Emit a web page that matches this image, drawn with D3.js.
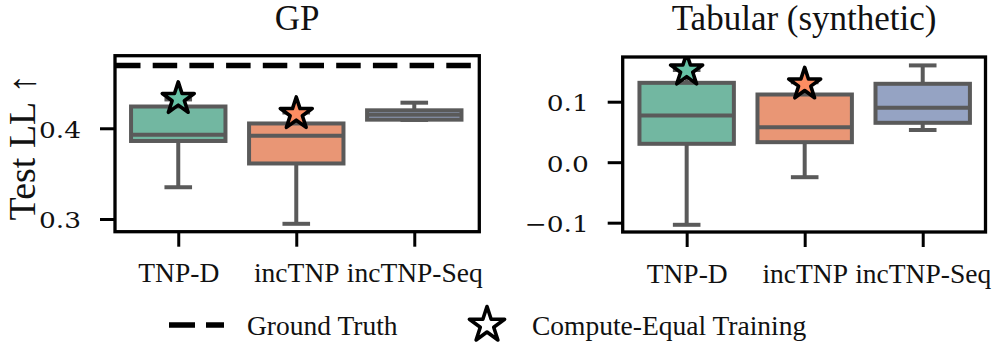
<!DOCTYPE html>
<html>
<head>
<meta charset="utf-8">
<script src="https://cdn.jsdelivr.net/npm/d3@7"></script>
<style>
  html, body { margin: 0; padding: 0; background: #fff; }
  svg { display: block; }
</style>
</head>
<body>
<svg id="chart" width="996" height="357"></svg>
<script>
// ---------------- data ----------------
const categories = ["TNP-D", "incTNP", "incTNP-Seq"];
const boxFill = ["#72b7a1", "#e99675", "#95a3c3"];
const starFill = ["#66c2a5", "#fc8d62"];

// GP panel (whisker low, Q1, median, Q3, whisker high)
const gpLow  = [0.335, 0.2947, 0.4092];
const gpQ1   = [0.3860, 0.3612, 0.4095];
const gpMed  = [0.3930, 0.3917, 0.4150];
const gpQ3   = [0.4240, 0.4053, 0.4198];
const gpHigh = [0.4318, 0.4174, 0.4282];
const gpStar = [0.4326, 0.4160];
const gpGroundTruth = 0.4692;
const gpTicks = [0.3, 0.4];

// Tabular (synthetic) panel
const tabLow  = [-0.1035, -0.0248, 0.0532];
const tabQ1   = [0.0304, 0.0331, 0.0651];
const tabMed  = [0.0772, 0.0579, 0.0899];
const tabQ3   = [0.1312, 0.1119, 0.1296];
const tabHigh = [0.1524, 0.1322, 0.1600];
const tabStar = [0.1520, 0.1290];
const tabTicks = [-0.1, 0.0, 0.1];

const legendLabels = ["Ground Truth", "Compute-Equal Training"];

// ---------------- drawing ----------------
const svg = d3.select("#chart");
const GRAY = "#5a5a5a";
const SERIF = "'Liberation Serif', 'Times New Roman', serif";
const NUMFONT = "'DejaVu Serif', serif";

function panel(opts) {
  const g = svg.append("g");
  const x = d3.scaleLinear().domain(opts.xlim).range(opts.xr);
  const y = d3.scaleLinear().domain(opts.ylim).range(opts.yr);
  const [x0, x1] = opts.xr, [y0, y1] = [opts.yr[1], opts.yr[0]];
  const clipId = "clip" + opts.id;
  svg.append("clipPath").attr("id", clipId).append("rect")
    .attr("x", x0).attr("y", y0).attr("width", x1 - x0).attr("height", y1 - y0);

  const idx = d3.range(categories.length);
  const hw = 0.4, cw = 0.2;
  const boxes = g.append("g");
  idx.forEach(i => {
    const b = boxes.append("g");
    // whiskers
    b.append("line").attr("x1", x(i)).attr("x2", x(i))
      .attr("y1", y(opts.q1[i])).attr("y2", y(opts.low[i]))
      .attr("stroke", GRAY).attr("stroke-width", 4);
    b.append("line").attr("x1", x(i)).attr("x2", x(i))
      .attr("y1", y(opts.q3[i])).attr("y2", y(opts.high[i]))
      .attr("stroke", GRAY).attr("stroke-width", 4);
    // caps
    [opts.low[i], opts.high[i]].forEach(v => {
      b.append("line").attr("x1", x(i - cw / 2 * 1)).attr("x2", x(i + cw / 2 * 1))
        .attr("y1", y(v)).attr("y2", y(v))
        .attr("stroke", GRAY).attr("stroke-width", 4).attr("stroke-linecap", "square");
    });
    // box
    b.append("rect")
      .attr("x", x(i - hw)).attr("width", x(i + hw) - x(i - hw))
      .attr("y", y(opts.q3[i])).attr("height", y(opts.q1[i]) - y(opts.q3[i]))
      .attr("fill", boxFill[i]).attr("stroke", GRAY).attr("stroke-width", 4);
    // median
    b.append("line").attr("x1", x(i - hw)).attr("x2", x(i + hw))
      .attr("y1", y(opts.med[i])).attr("y2", y(opts.med[i]))
      .attr("stroke", GRAY).attr("stroke-width", 4);
  });

  if (opts.gt != null) {
    g.append("line").attr("x1", x0 + 1).attr("x2", x1)
      .attr("y1", y(opts.gt)).attr("y2", y(opts.gt))
      .attr("stroke", "#000").attr("stroke-width", 5.7)
      .attr("stroke-dasharray", "24.5,12.2");
  }

  // stars
  const star = d3.symbol().type(d3.symbolStar).size(16.8 * 16.8 / 0.8908130915292852);
  g.append("g").attr("clip-path", `url(#${clipId})`)
    .selectAll("path").data(opts.star).join("path")
    .attr("d", star)
    .attr("transform", (d, i) => `translate(${x(i)},${y(d)})`)
    .attr("fill", (d, i) => starFill[i])
    .attr("stroke", "#000").attr("stroke-width", 3.6).attr("stroke-linejoin", "round");

  // frame
  g.append("rect").attr("x", x0).attr("y", y0).attr("width", x1 - x0).attr("height", y1 - y0)
    .attr("fill", "none").attr("stroke", "#000").attr("stroke-width", 3.3);

  // y axis
  const ya = g.append("g").attr("transform", `translate(${x0},0)`)
    .call(d3.axisLeft(y).tickValues(opts.ticks).tickSize(15).tickPadding(18)
      .tickFormat(d => d3.format(".1f")(d).replace("-", "\u2212")));
  ya.select(".domain").remove();
  ya.selectAll(".tick line").attr("stroke", "#000").attr("stroke-width", 3);
  ya.selectAll(".tick text")
    .attr("font-family", NUMFONT).attr("font-size", 23).attr("fill", "#111")
    .attr("x", null).attr("dy", null)
    .attr("transform", "translate(-34,9) scale(1.15,1)");

  // x axis
  const xa = g.append("g").attr("transform", `translate(0,${y1})`)
    .call(d3.axisBottom(x).tickValues(idx).tickSize(15).tickPadding(16)
      .tickFormat(i => categories[i]));
  xa.select(".domain").remove();
  xa.selectAll(".tick line").attr("stroke", "#000").attr("stroke-width", 3);
  xa.selectAll(".tick text")
    .attr("font-family", SERIF).attr("font-size", 27.5).attr("fill", "#111");

  // title
  g.append("text").attr("x", (x0 + x1) / 2).attr("y", 30)
    .attr("text-anchor", "middle").attr("font-family", SERIF).attr("font-size", 35)
    .attr("fill", "#111").text(opts.title);
  return {x, y};
}

panel({
  id: "gp", title: "GP",
  xlim: [-0.536, 2.551], xr: [115, 479.3],
  ylim: [0.2860, 0.4800], yr: [231.7, 55.7],
  low: gpLow, q1: gpQ1, med: gpMed, q3: gpQ3, high: gpHigh,
  star: gpStar, gt: gpGroundTruth, ticks: gpTicks
});
panel({
  id: "tab", title: "Tabular (synthetic)",
  xlim: [-0.542, 2.532], xr: [622.7, 985.5],
  ylim: [-0.1154, 0.1739], yr: [232, 57],
  low: tabLow, q1: tabQ1, med: tabMed, q3: tabQ3, high: tabHigh,
  star: tabStar, gt: null, ticks: tabTicks
});

// y label
svg.append("text")
  .attr("transform", "translate(35,147.5) rotate(-90)")
  .attr("text-anchor", "middle").attr("font-family", SERIF).attr("font-size", 38)
  .attr("fill", "#111").text("Test LL \u2191");

// legend
const lg = svg.append("g");
lg.append("line").attr("x1", 169).attr("x2", 224).attr("y1", 325).attr("y2", 325)
  .attr("stroke", "#000").attr("stroke-width", 5.7).attr("stroke-dasharray", "26,11");
lg.append("text").attr("x", 247).attr("y", 335).attr("font-family", SERIF)
  .attr("font-size", 27.5).attr("fill", "#111").text(legendLabels[0]);
lg.append("path")
  .attr("d", d3.symbol().type(d3.symbolStar).size(18.5 * 18.5 / 0.8908130915292852))
  .attr("transform", "translate(487,325)")
  .attr("fill", "#fff").attr("stroke", "#000").attr("stroke-width", 3.6).attr("stroke-linejoin", "round");
lg.append("text").attr("x", 532).attr("y", 335).attr("font-family", SERIF)
  .attr("font-size", 27.5).attr("fill", "#111").text(legendLabels[1]);
</script>
</body>
</html>
